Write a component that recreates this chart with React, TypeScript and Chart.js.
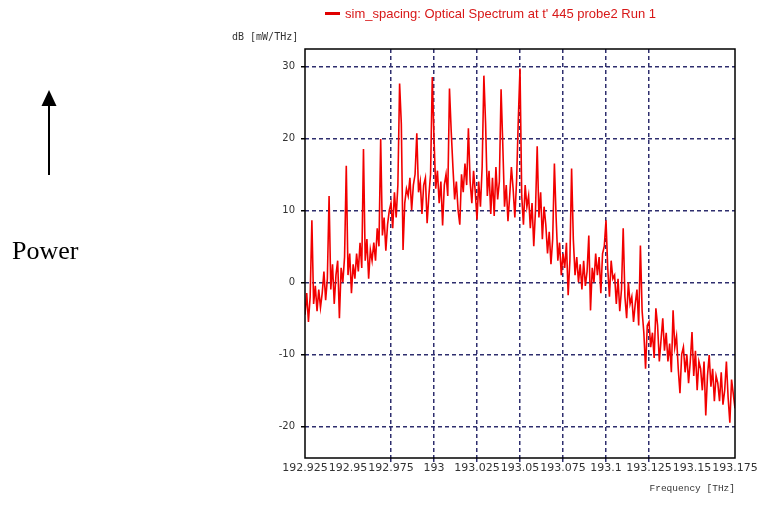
import React, { useEffect, useRef } from 'react';
import { Chart, registerables } from 'chart.js';

Chart.register(...registerables);

// Sampling grid of the spectrum analyser (THz)
const FREQ_START = 192.925;
const FREQ_STEP = 0.001;

// Power spectral density (dB [mW/THz]), one value per sample
const powerDb: number[] = [
  -4.5, -1.5, -5.5, -2, 8.6, -3, -0.5, -4, -1, -3.5,
  -1.5, 1.5, -2.5, 0.5, 12, -1, 2.5, -3, 1, 3,
  -5, 2, 0, 3.5, 16.2, 1, 4, -1.5, 2.5, 0.5,
  4, 1.5, 5.5, 2, 18.5, 3, 6, 0.5, 4.5, 3,
  5.5, 3, 7.5, 5, 19.9, 6.5, 9, 4.4, 8, 10,
  11, 7.5, 12.5, 9, 13.5, 27.6, 22, 4.5, 11, 13,
  12, 14.5, 10, 13.5, 15, 20.7, 12.5, 14, 9.5, 13.5,
  14.5, 8.2, 12, 15, 28.5, 20, 13, 15.5, 11, 14,
  7.9, 13.5, 15, 12, 26.9, 21, 16, 11.5, 14, 10,
  8, 15, 12.5, 16.5, 13.5, 21.4, 14, 11, 15.5, 12.5,
  8.7, 14, 10.5, 16, 28.7, 22, 12, 15.5, 9.5, 14.5,
  9.2, 16, 11.5, 14, 26.8, 19, 10.5, 13.5, 8.5, 12,
  16, 13, 9, 14, 22.5, 29.7, 12, 8, 13.5, 10.5,
  12, 7.5, 11, 5, 10, 18.9, 9, 12.5, 6, 10.5,
  8, 4, 7, 2.5, 6, 16.5, 9, 3, 5.5, 1,
  4, 2, 5.5, -1.8, 3, 15.8, 6, 1, 3.5, 0,
  2.5, -1, 3, -0.5, 1.5, 6.5, -3.9, 2, 0, 4,
  1, 3.5, -1.5, 4, 5, 8.6, 2, -2, 3, 0.5,
  1, -3, 0.5, -4, -1, 7.5, -2, -5, 0, -3,
  -2, -5.5, -3, -1, -6, 5.1, -4, -7, -12, -6,
  -5.5, -9, -7, -10.5, -3.6, -6, -11, -8, -5, -9.5,
  -7, -11, -8.5, -12.5, -3.9, -9, -7.5, -12, -15.4, -10,
  -9, -12.5, -10, -14, -11, -6.9, -13, -9.5, -15, -11,
  -12, -15, -11, -18.5, -13, -10.1, -14.5, -12, -16.5, -13,
  -14, -16.5, -12.5, -17, -15, -11, -16, -19.5, -13.5, -15.5,
  -17.5,
];

const xTickLabels = ['192.925', '192.95', '192.975', '193', '193.025', '193.05', '193.075', '193.1', '193.125', '193.15', '193.175'];
const xGridLabels = ['192.975', '193', '193.025', '193.05', '193.075', '193.1', '193.125'];
const yTickValues = [-20, -10, 0, 10, 20, 30];
const X_MIN = 192.925;
const X_MAX = 193.175;
const Y_MIN = -24.4;
const Y_MAX = 32.4;

const legendLabel = "sim_spacing: Optical Spectrum at t' 445 probe2 Run 1";
const yAxisTitle = 'dB [mW/THz]';
const xAxisTitle = 'Frequency [THz]';
const sideLabel = 'Power';

const GRID = '#2e2e6e';
const LINE = '#f20000';

const overlayPlugin = {
  id: 'overlay',
  afterDatasetsDraw(chart: any) {
    const { ctx, chartArea: a } = chart;
    ctx.save();
    ctx.strokeStyle = '#000';
    ctx.lineWidth = 1.5;
    ctx.strokeRect(a.left, a.top, a.right - a.left, a.bottom - a.top);
    ctx.restore();
  },
  afterDraw(chart: any) {
    const { ctx } = chart;
    ctx.save();
    // legend
    ctx.fillStyle = '#e00000';
    ctx.fillRect(325, 12, 15, 3);
    ctx.fillStyle = '#d81818';
    ctx.font = '13px "Liberation Sans", Arial, sans-serif';
    ctx.textBaseline = 'middle';
    ctx.textAlign = 'left';
    ctx.fillText(legendLabel, 345, 14);
    // y axis title
    ctx.fillStyle = '#333';
    ctx.font = '10px "DejaVu Sans Mono", monospace';
    ctx.fillText(yAxisTitle, 232, 37);
    ctx.restore();
  },
};

export default function App() {
  const ref = useRef<HTMLCanvasElement | null>(null);

  useEffect(() => {
    if (!ref.current) return;
    const points = powerDb.map((v, i) => ({ x: FREQ_START + i * FREQ_STEP, y: v }));
    const gridColor = (c: any) =>
      xGridLabels.includes(xTickLabels[c.index]) ? GRID : 'rgba(0,0,0,0)';

    const chart = new Chart(ref.current, {
      type: 'line',
      data: {
        datasets: [
          {
            label: legendLabel,
            data: points,
            borderColor: LINE,
            borderWidth: 1.6,
            pointRadius: 0,
            tension: 0,
            fill: false,
          },
        ],
      },
      options: {
        responsive: false,
        animation: false,
        devicePixelRatio: 1,
        layout: { padding: { top: 49, right: 24, bottom: 0, left: 0 } },
        plugins: {
          legend: { display: false },
          tooltip: { enabled: false },
        },
        scales: {
          x: {
            type: 'linear',
            min: X_MIN,
            max: X_MAX,
            afterBuildTicks: (s: any) => {
              s.ticks = xTickLabels.map((l) => ({ value: parseFloat(l) }));
            },
            afterFit: (s: any) => {
              s.height = 57;
            },
            ticks: {
              autoSkip: false,
              maxRotation: 0,
              minRotation: 0,
              padding: 0,
              color: '#333',
              font: { family: '"DejaVu Sans", sans-serif', size: 11 },
              callback: (_v: any, i: number) => xTickLabels[i],
            },
            grid: {
              color: gridColor,
              tickColor: gridColor,
              lineWidth: 1.5,
              tickLength: 4,
            },
            border: { display: false, dash: [4, 3] },
            title: {
              display: true,
              text: xAxisTitle,
              align: 'end',
              color: '#333',
              font: { family: '"Liberation Mono", monospace', size: 9.5 },
              padding: { top: 0, bottom: 21 },
            },
          },
          y: {
            type: 'linear',
            min: Y_MIN,
            max: Y_MAX,
            afterBuildTicks: (s: any) => {
              s.ticks = yTickValues.map((v) => ({ value: v }));
            },
            afterFit: (s: any) => {
              s.width = 305;
            },
            ticks: {
              padding: 6,
              color: '#333',
              font: { family: '"DejaVu Sans", sans-serif', size: 10 },
            },
            grid: {
              color: GRID,
              tickColor: '#000',
              lineWidth: 1.5,
              tickLength: 4,
            },
            border: { display: false, dash: [4, 3] },
          },
        },
      },
      plugins: [overlayPlugin],
    } as any);

    return () => chart.destroy();
  }, []);

  return (
    <div style={{ position: 'absolute', left: 0, top: 0, width: 759, height: 515, background: '#fff' }}>
      <canvas ref={ref} width={759} height={515} style={{ position: 'absolute', left: 0, top: 0 }} />
      <svg width={100} height={200} style={{ position: 'absolute', left: 0, top: 0 }}>
        <line x1={49} y1={104} x2={49} y2={175} stroke="#000" strokeWidth={2} />
        <polygon points="49,90 41.5,106 56.5,106" fill="#000" />
      </svg>
      <div
        style={{
          position: 'absolute',
          left: 12,
          top: 238,
          fontFamily: '"Liberation Serif", "Times New Roman", serif',
          fontSize: 26,
          lineHeight: '26px',
          color: '#000',
          whiteSpace: 'nowrap',
        }}
      >
        {sideLabel}
      </div>
    </div>
  );
}
